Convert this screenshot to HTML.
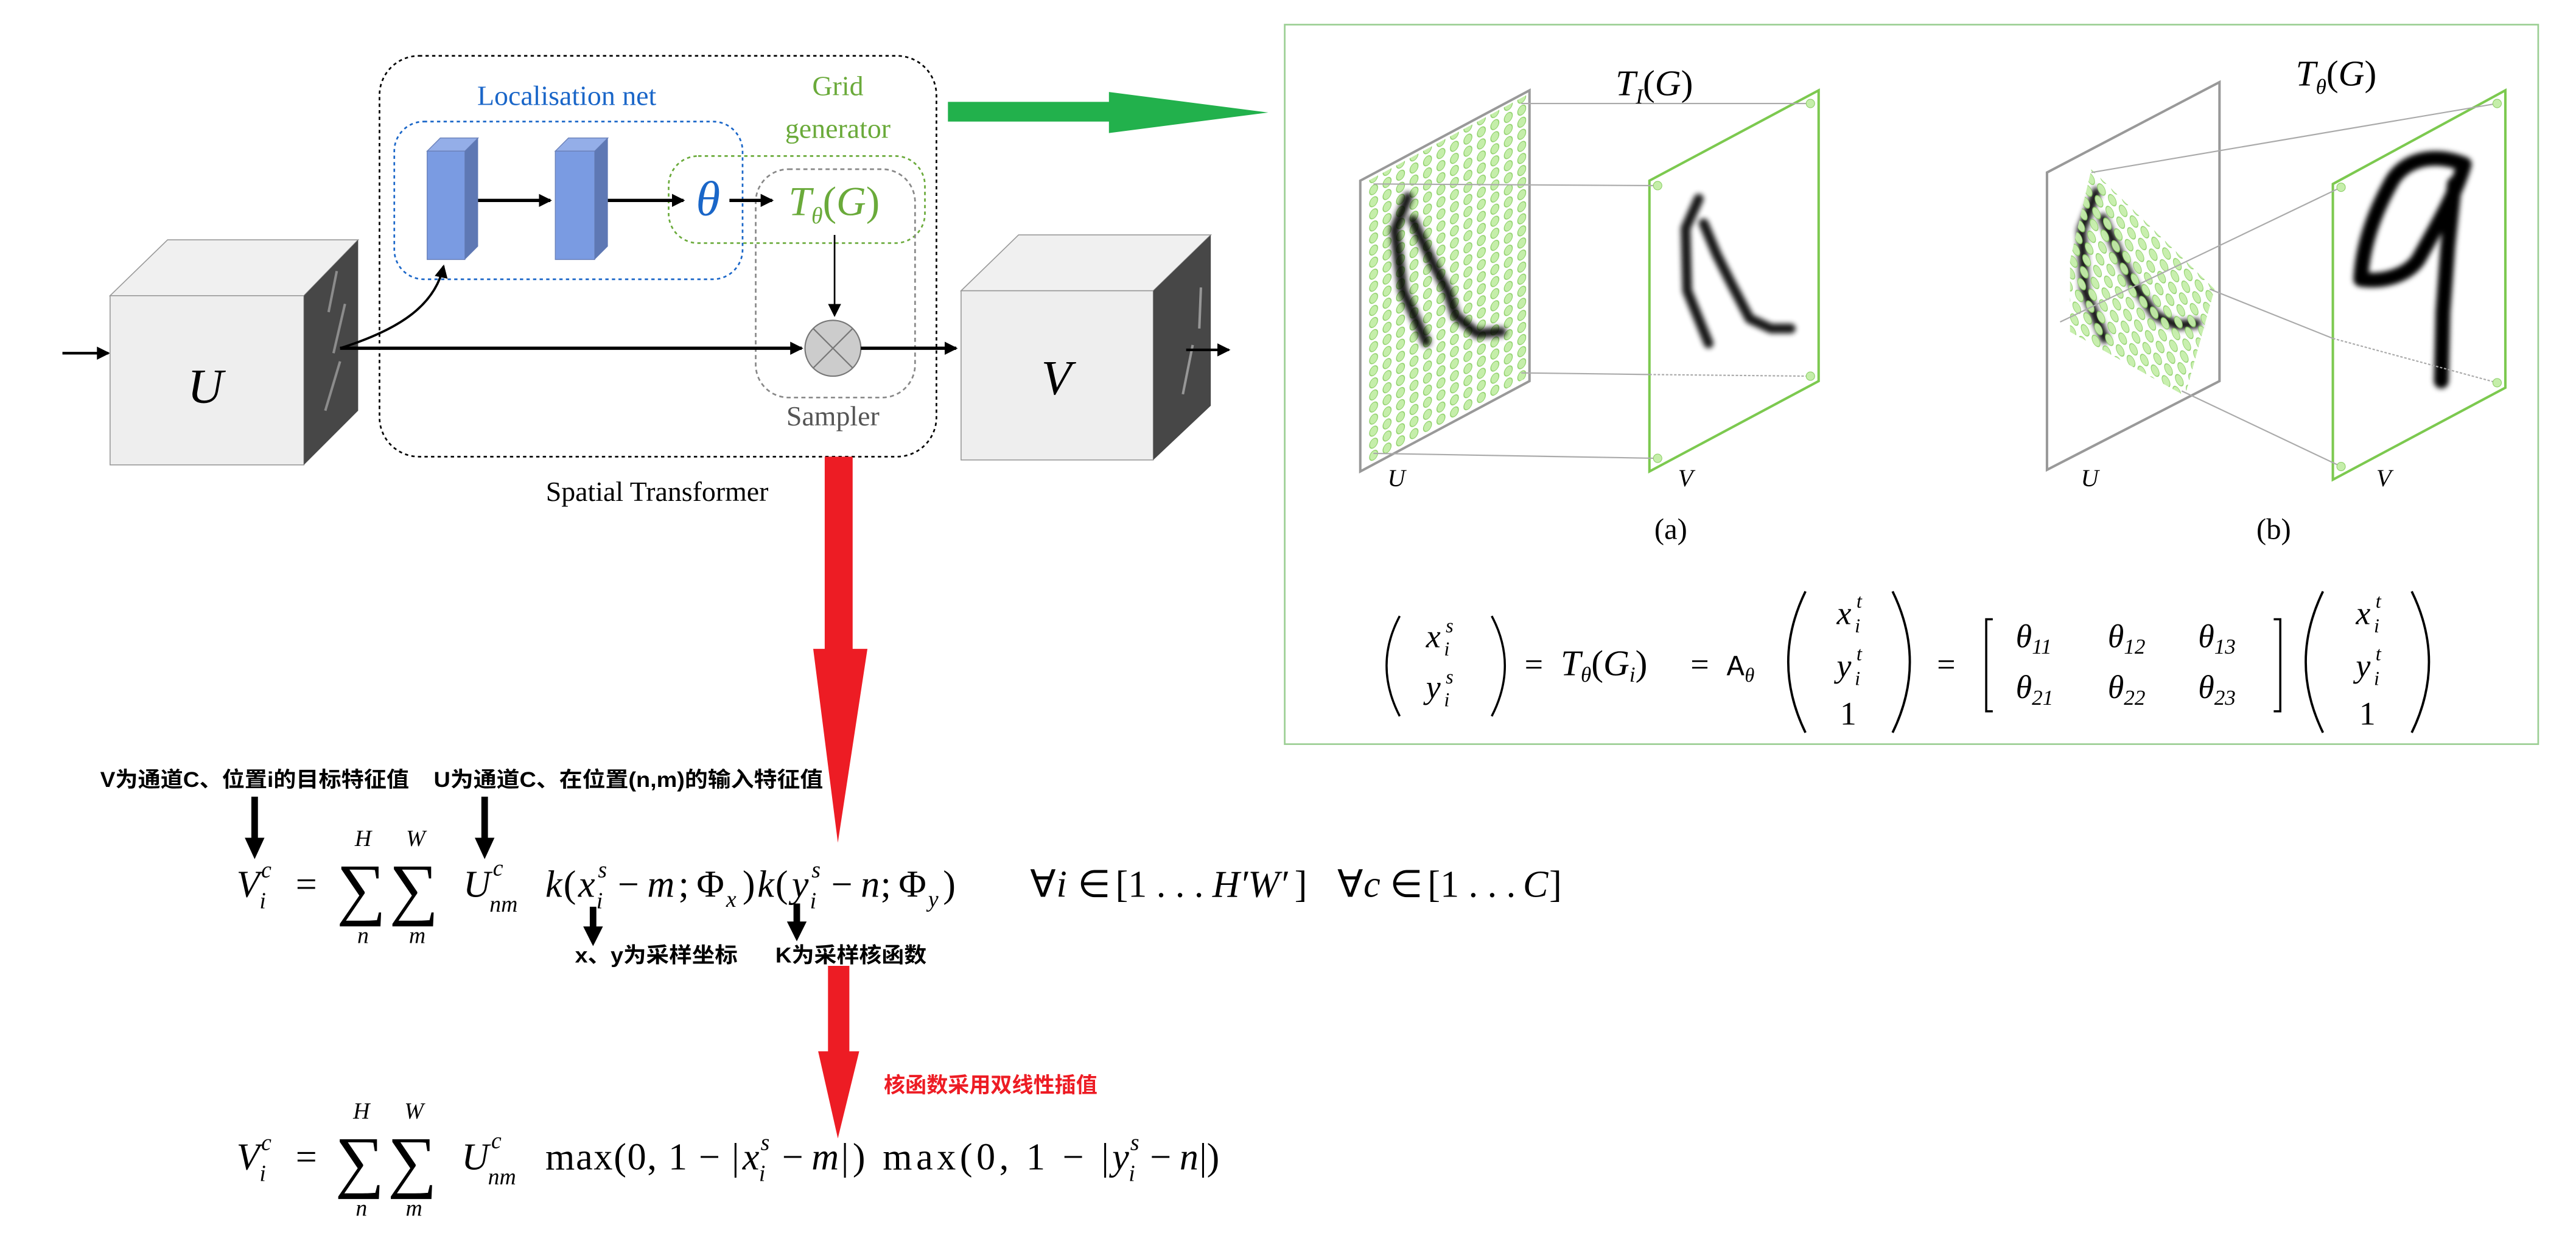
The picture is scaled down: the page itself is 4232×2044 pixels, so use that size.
<!DOCTYPE html>
<html><head><meta charset="utf-8"><style>
html,body{margin:0;padding:0;background:#fff;}
svg{display:block;}
.m{font-family:"Liberation Serif",serif;font-style:italic;}
.r{font-family:"Liberation Serif",serif;}
.cj{font-family:"Liberation Sans","Noto Sans CJK SC",sans-serif;font-weight:bold;}
</style></head><body>
<svg width="4232" height="2044" viewBox="0 0 1568 757.3" preserveAspectRatio="none" xmlns="http://www.w3.org/2000/svg">
<defs>
<marker id="ah" markerWidth="8" markerHeight="8" refX="7" refY="4" orient="auto" markerUnits="userSpaceOnUse"><path d="M0,0 L8,4 L0,8 z" fill="#000"/></marker>
<filter id="bl" x="-20%" y="-20%" width="140%" height="140%"><feGaussianBlur stdDeviation="1.6"/></filter>
<pattern id="pa" patternUnits="userSpaceOnUse" width="1" height="1" patternTransform="matrix(8.2,-4.4,0,7.35,832,114)"><ellipse cx="0.5" cy="0.5" rx="0.3" ry="0.38" fill="#c5eeaa" stroke="#8ccf66" stroke-width="0.06"/></pattern>
<pattern id="pb" patternUnits="userSpaceOnUse" width="1" height="1" patternTransform="matrix(6.6,6.5,-1.5,7.2,1270,102)"><circle cx="0.5" cy="0.5" r="0.36" fill="#c5eeaa" stroke="#8ccf66" stroke-width="0.06"/></pattern>
<clipPath id="ca"><polygon points="831,111 929,58 929,230 831,284"/></clipPath>
<clipPath id="cb"><polygon points="1273,103 1348,176 1330,241 1251,197"/></clipPath>
</defs>

<line x1="38" y1="215" x2="66" y2="215" stroke="#000" stroke-width="1.6" marker-end="url(#ah)"/>
<polygon points="67,180 102,146 218,146 185,180" fill="#f0f0f0" stroke="#999" stroke-width="0.6"/>
<rect x="67" y="180" width="118" height="103" fill="#eeeeee" stroke="#999" stroke-width="0.6"/>
<polygon points="185,180 218,146 218,250 185,283" fill="#474747"/>
<path d="M205,165 L200,190 M210,185 L203,215 M207,220 L198,250" stroke="#bbb" stroke-width="1.5" opacity="0.6"/>
<text x="125" y="245" class="m" font-size="30" text-anchor="middle">U</text>
<polygon points="585,177 620,143 737,143 702,177" fill="#f0f0f0" stroke="#999" stroke-width="0.6"/>
<rect x="585" y="177" width="117" height="103" fill="#eeeeee" stroke="#999" stroke-width="0.6"/>
<polygon points="702,177 737,143 737,247 702,280" fill="#474747"/>
<path d="M731,175 L730,200 M726,210 L720,240" stroke="#ccc" stroke-width="1.5" opacity="0.6"/>
<text x="643" y="240" class="m" font-size="30" text-anchor="middle">V</text>
<line x1="722" y1="213" x2="748" y2="213" stroke="#000" stroke-width="1.6" marker-end="url(#ah)"/>

<rect x="231" y="34" width="339" height="244" rx="24" fill="none" stroke="#000" stroke-width="1" stroke-dasharray="2,2"/>
<text x="345" y="64" class="r" font-size="17" fill="#1a66c8" text-anchor="middle">Localisation net</text>
<rect x="240" y="74" width="212" height="96" rx="18" fill="none" stroke="#1a66c8" stroke-width="1" stroke-dasharray="2,2"/>
<text x="510" y="58" class="r" font-size="17" fill="#6aaa3a" text-anchor="middle">Grid</text>
<text x="510" y="84" class="r" font-size="17" fill="#6aaa3a" text-anchor="middle">generator</text>
<rect x="407" y="95" width="156" height="53" rx="18" fill="none" stroke="#6aaa3a" stroke-width="1" stroke-dasharray="2,2"/>
<rect x="460" y="103" width="97" height="139" rx="20" fill="none" stroke="#888" stroke-width="1" stroke-dasharray="2.5,2"/>
<polygon points="260,92 268,84 291,84 283,92" fill="#94aee8" stroke="#6a80b8" stroke-width="0.5"/>
<rect x="260" y="92" width="23" height="66" fill="#7a9be2" stroke="#6a80b8" stroke-width="0.5"/>
<polygon points="283,92 291,84 291,150 283,158" fill="#5e78b4"/>
<polygon points="338,92 346,84 370,84 362,92" fill="#94aee8" stroke="#6a80b8" stroke-width="0.5"/>
<rect x="338" y="92" width="24" height="66" fill="#7a9be2" stroke="#6a80b8" stroke-width="0.5"/>
<polygon points="362,92 370,84 370,150 362,158" fill="#5e78b4"/>
<line x1="291" y1="122" x2="335" y2="122" stroke="#000" stroke-width="2" marker-end="url(#ah)"/>
<line x1="370" y1="122" x2="416" y2="122" stroke="#000" stroke-width="2" marker-end="url(#ah)"/>
<text x="431" y="131" class="m" font-size="30" fill="#1a66c8" text-anchor="middle">θ</text>
<line x1="444" y1="122" x2="470" y2="122" stroke="#000" stroke-width="2" marker-end="url(#ah)"/>
<text x="480" y="131" class="m" font-size="25" fill="#6aaa3a">T<tspan font-size="14" dy="5">θ</tspan><tspan dy="-5" font-style="normal">(</tspan>G<tspan font-style="normal">)</tspan></text>
<line x1="508" y1="143" x2="508" y2="192" stroke="#000" stroke-width="1" marker-end="url(#ah)"/>
<ellipse cx="507" cy="212" rx="17" ry="17" fill="#cccccc" stroke="#777" stroke-width="0.8"/>
<path d="M495,200 L519,224 M519,200 L495,224" stroke="#777" stroke-width="0.8"/>
<text x="507" y="259" class="r" font-size="17" fill="#555" text-anchor="middle">Sampler</text>
<line x1="207" y1="212" x2="488" y2="212" stroke="#000" stroke-width="2" marker-end="url(#ah)"/>
<line x1="524" y1="212" x2="582" y2="212" stroke="#000" stroke-width="2" marker-end="url(#ah)"/>
<path d="M207,212 C245,200 265,185 270,162" fill="none" stroke="#000" stroke-width="1.4" marker-end="url(#ah)"/>
<text x="400" y="305" class="r" font-size="17" text-anchor="middle">Spatial Transformer</text>

<polygon points="577,62 675,62 675,56 772,68.5 675,81 675,74 577,74" fill="#22b14c"/>

<polygon points="502,278 519,278 519,395 528,395 510,513 495,395 502,395" fill="#ed1c24"/>
<polygon points="504,588 517,588 517,640 523,640 510,693 498,640 504,640" fill="#ed1c24"/>
<text x="538" y="665" class="cj" font-size="13" fill="#ed1c24">核函数采用双线性插值</text>

<text x="61" y="479" class="cj" font-size="13" textLength="188" lengthAdjust="spacingAndGlyphs">V为通道C、位置i的目标特征值</text>
<text x="264" y="479" class="cj" font-size="13" textLength="237" lengthAdjust="spacingAndGlyphs">U为通道C、在位置(n,m)的输入特征值</text>
<line x1="155" y1="485" x2="155" y2="512" stroke="#000" stroke-width="4"/><polygon points="149,510 161,510 155,523" fill="#000"/>
<line x1="295" y1="485" x2="295" y2="512" stroke="#000" stroke-width="4"/><polygon points="289,510 301,510 295,523" fill="#000"/>
<line x1="361" y1="552" x2="361" y2="566" stroke="#000" stroke-width="4"/><polygon points="355,564 367,564 361,576" fill="#000"/>
<line x1="485" y1="550" x2="485" y2="563" stroke="#000" stroke-width="4"/><polygon points="479,561 491,561 485,573" fill="#000"/>
<text x="350" y="586" class="cj" font-size="13" textLength="99" lengthAdjust="spacingAndGlyphs">x、y为采样坐标</text>
<text x="472" y="586" class="cj" font-size="13" textLength="92" lengthAdjust="spacingAndGlyphs">K为采样核函数</text>

<g font-size="23">
<text x="144" y="546" class="m">V</text>
<text x="159" y="534" class="m" font-size="14">c</text>
<text x="158" y="553" class="m" font-size="14">i</text>
<text x="180" y="546" class="r">=</text>
<text x="205" y="555" class="r" font-size="42">∑</text>
<text x="237" y="555" class="r" font-size="42">∑</text>
<text x="221" y="515" class="m" font-size="14" text-anchor="middle">H</text>
<text x="253" y="515" class="m" font-size="14" text-anchor="middle">W</text>
<text x="221" y="574" class="m" font-size="14" text-anchor="middle">n</text>
<text x="254" y="574" class="m" font-size="14" text-anchor="middle">m</text>
<text x="282" y="546" class="m">U</text>
<text x="300" y="533" class="m" font-size="14">c</text>
<text x="298" y="555" class="m" font-size="14">nm</text>
<text x="332" y="546" class="m">k</text><text x="343" y="546" class="r">(</text>
<text x="352" y="546" class="m">x</text>
<text x="364" y="534" class="m" font-size="14">s</text><text x="363" y="553" class="m" font-size="14">i</text>
<text x="376" y="546" class="r">−</text><text x="394" y="546" class="m">m</text><text x="413" y="546" class="r">;</text><text x="424" y="546" class="r">Φ</text>
<text x="442" y="552" class="m" font-size="14">x</text>
<text x="452" y="546" class="r">)</text>
<text x="461" y="546" class="m">k</text><text x="472" y="546" class="r">(</text>
<text x="482" y="546" class="m">y</text>
<text x="494" y="534" class="m" font-size="14">s</text><text x="493" y="553" class="m" font-size="14">i</text>
<text x="506" y="546" class="r">−</text><text x="524" y="546" class="m">n</text><text x="536" y="546" class="r">;</text><text x="547" y="546" class="r">Φ</text>
<text x="565" y="552" class="m" font-size="14">y</text>
<text x="574" y="546" class="r">)</text>
<text x="627" y="546" class="r">∀</text><text x="643" y="546" class="m">i</text><text x="656" y="546" class="r">∈</text>
<text x="679" y="546" class="r">[1 . . .</text><text x="738" y="546" class="m">H′W′</text><text x="788" y="546" class="r">]</text>
<text x="814" y="546" class="r">∀</text><text x="830" y="546" class="m">c</text><text x="846" y="546" class="r">∈</text>
<text x="869" y="546" class="r">[1 . . .</text><text x="927" y="546" class="m">C</text><text x="943" y="546" class="r">]</text>
</g>

<g font-size="23">
<text x="144" y="712" class="m">V</text>
<text x="159" y="700" class="m" font-size="14">c</text>
<text x="158" y="719" class="m" font-size="14">i</text>
<text x="180" y="712" class="r">=</text>
<text x="204" y="721" class="r" font-size="42">∑</text>
<text x="236" y="721" class="r" font-size="42">∑</text>
<text x="220" y="681" class="m" font-size="14" text-anchor="middle">H</text>
<text x="252" y="681" class="m" font-size="14" text-anchor="middle">W</text>
<text x="220" y="740" class="m" font-size="14" text-anchor="middle">n</text>
<text x="252" y="740" class="m" font-size="14" text-anchor="middle">m</text>
<text x="281" y="712" class="m">U</text>
<text x="299" y="699" class="m" font-size="14">c</text>
<text x="297" y="721" class="m" font-size="14">nm</text>
<text x="332" y="712" class="r" textLength="118" lengthAdjust="spacing">max(0, 1 − |</text>
<text x="452" y="712" class="m">x</text>
<text x="463" y="700" class="m" font-size="14">s</text><text x="462" y="719" class="m" font-size="14">i</text>
<text x="476" y="712" class="r">−</text><text x="494" y="712" class="m">m</text>
<text x="512" y="712" class="r" textLength="163" lengthAdjust="spacing">|) max(0, 1 − |</text>
<text x="677" y="712" class="m">y</text>
<text x="688" y="700" class="m" font-size="14">s</text><text x="687" y="719" class="m" font-size="14">i</text>
<text x="700" y="712" class="r">−</text><text x="718" y="712" class="m">n</text><text x="730" y="712" class="r">|)</text>
</g>

<rect x="782" y="15" width="763" height="438" fill="none" stroke="#9ccf94" stroke-width="1"/>
<rect x="820" y="40" width="120" height="260" fill="url(#pa)" clip-path="url(#ca)"/>
<g filter="url(#bl)" stroke="#000" stroke-width="6" fill="none" stroke-linecap="round" stroke-linejoin="round" opacity="0.9">
<polyline points="857,120 849,140 854,177 868,208"/>
<polyline points="860,134 872,160 881,177 886,192 899,203 914,202"/>
<polyline points="1034,121 1026,139 1027,177 1040,209"/>
<polyline points="1037,136 1045,155 1053,171 1065,194 1078,200 1090,200"/>
<polyline points="1276,117 1267,140 1269,177 1281,206"/>
<polyline points="1280,133 1290,155 1298,172 1312,192 1325,198 1337,197"/>
</g>
<g filter="url(#bl)" stroke="#000" stroke-width="9" fill="none" stroke-linecap="round" stroke-linejoin="round">
<path d="M1500,100 C1480,92 1462,98 1455,112 C1445,130 1438,150 1437,170 C1450,172 1465,168 1472,158 C1482,140 1495,118 1500,100 Z"/>
<polyline points="1494,112 1490,150 1487,190 1486,232"/>
</g>
<rect x="1260" y="100" width="95" height="150" fill="url(#pb)" clip-path="url(#cb)" opacity="0.95"/>
<polygon points="828,110 931,55 931,232 828,287" fill="none" stroke="#999" stroke-width="1.5"/>
<polygon points="1004,110 1107,55 1107,232 1004,287" fill="none" stroke="#7cc94f" stroke-width="1.5"/>
<g stroke="#aaa" stroke-width="0.8">
<line x1="836" y1="112" x2="1009" y2="113"/><line x1="926" y1="63" x2="1102" y2="63"/>
<line x1="926" y1="227" x2="1004" y2="228"/><line x1="1004" y1="228" x2="1102" y2="229" stroke-dasharray="1.5,1"/>
<line x1="836" y1="276" x2="1009" y2="279"/>
</g>
<g fill="#c5eeaa" stroke="#8ccf66" stroke-width="0.4"><circle cx="1009" cy="113" r="2.6"/><circle cx="1102" cy="63" r="2.6"/><circle cx="1102" cy="229" r="2.6"/><circle cx="1009" cy="279" r="2.6"/></g>
<text x="1007" y="58" class="m" font-size="22" text-anchor="middle">T<tspan font-size="13" dy="5">I</tspan><tspan dy="-5" font-style="normal">(</tspan>G<tspan font-style="normal">)</tspan></text>
<text x="850" y="296" class="m" font-size="15" text-anchor="middle">U</text>
<text x="1026" y="296" class="m" font-size="15" text-anchor="middle">V</text>
<text x="1017" y="328" class="r" font-size="18" text-anchor="middle">(a)</text>
<polygon points="1246,105 1351,50 1351,232 1246,286" fill="none" stroke="#999" stroke-width="1.5"/>
<polygon points="1420,112 1525,55 1525,236 1420,292" fill="none" stroke="#7cc94f" stroke-width="1.5"/>
<g stroke="#aaa" stroke-width="0.8">
<line x1="1273" y1="105" x2="1520" y2="63"/><line x1="1254" y1="196" x2="1425" y2="114"/>
<line x1="1345" y1="176" x2="1420" y2="206"/><line x1="1420" y1="206" x2="1520" y2="233" stroke-dasharray="1.5,1"/>
<line x1="1328" y1="238" x2="1425" y2="284"/>
</g>
<g fill="#c5eeaa" stroke="#8ccf66" stroke-width="0.4"><circle cx="1520" cy="63" r="2.6"/><circle cx="1425" cy="114" r="2.6"/><circle cx="1520" cy="233" r="2.6"/><circle cx="1425" cy="284" r="2.6"/></g>
<text x="1422" y="52" class="m" font-size="22" text-anchor="middle">T<tspan font-size="13" dy="5">θ</tspan><tspan dy="-5" font-style="normal">(</tspan>G<tspan font-style="normal">)</tspan></text>
<text x="1272" y="296" class="m" font-size="15" text-anchor="middle">U</text>
<text x="1451" y="296" class="m" font-size="15" text-anchor="middle">V</text>
<text x="1384" y="328" class="r" font-size="18" text-anchor="middle">(b)</text>

<g font-size="20">
<path d="M852,375 Q836,405 852,436" fill="none" stroke="#000" stroke-width="1.3"/>
<path d="M908,375 Q924,405 908,436" fill="none" stroke="#000" stroke-width="1.3"/>
<text x="868" y="394" class="m">x</text><text x="880" y="385" class="m" font-size="12">s</text><text x="879" y="399" class="m" font-size="12">i</text>
<text x="868" y="425" class="m">y</text><text x="880" y="416" class="m" font-size="12">s</text><text x="879" y="430" class="m" font-size="12">i</text>
<text x="928" y="411" class="r">=</text>
<text x="950" y="411" class="m" font-size="22">T<tspan font-size="13" dy="4">θ</tspan><tspan dy="-4" font-style="normal">(</tspan>G<tspan font-size="13" dy="4">i</tspan><tspan dy="-4" font-style="normal">)</tspan></text>
<text x="1029" y="411" class="r">=</text>
<text x="1051" y="411" font-family="Liberation Mono,monospace" font-size="18">A</text><text x="1062" y="415" class="m" font-size="12">θ</text>
<path d="M1099,360 Q1078,403 1099,446" fill="none" stroke="#000" stroke-width="1.4"/>
<path d="M1152,360 Q1173,403 1152,446" fill="none" stroke="#000" stroke-width="1.4"/>
<text x="1118" y="380" class="m">x</text><text x="1130" y="370" class="m" font-size="12">t</text><text x="1129" y="385" class="m" font-size="12">i</text>
<text x="1118" y="412" class="m">y</text><text x="1130" y="402" class="m" font-size="12">t</text><text x="1129" y="417" class="m" font-size="12">i</text>
<text x="1125" y="441" class="r" text-anchor="middle">1</text>
<text x="1179" y="411" class="r">=</text>
<path d="M1213,377 L1209,377 L1209,433 L1213,433" fill="none" stroke="#000" stroke-width="1.3"/>
<path d="M1384,377 L1388,377 L1388,433 L1384,433" fill="none" stroke="#000" stroke-width="1.3"/>
<text x="1227" y="394" class="m">θ<tspan class="r" font-size="13" dy="4">11</tspan></text>
<text x="1283" y="394" class="m">θ<tspan class="r" font-size="13" dy="4">12</tspan></text>
<text x="1338" y="394" class="m">θ<tspan class="r" font-size="13" dy="4">13</tspan></text>
<text x="1227" y="425" class="m">θ<tspan class="r" font-size="13" dy="4">21</tspan></text>
<text x="1283" y="425" class="m">θ<tspan class="r" font-size="13" dy="4">22</tspan></text>
<text x="1338" y="425" class="m">θ<tspan class="r" font-size="13" dy="4">23</tspan></text>
<path d="M1414,360 Q1393,403 1414,446" fill="none" stroke="#000" stroke-width="1.4"/>
<path d="M1468,360 Q1489,403 1468,446" fill="none" stroke="#000" stroke-width="1.4"/>
<text x="1434" y="380" class="m">x</text><text x="1446" y="370" class="m" font-size="12">t</text><text x="1445" y="385" class="m" font-size="12">i</text>
<text x="1434" y="412" class="m">y</text><text x="1446" y="402" class="m" font-size="12">t</text><text x="1445" y="417" class="m" font-size="12">i</text>
<text x="1441" y="441" class="r" text-anchor="middle">1</text>
</g>
</svg>
</body></html>
